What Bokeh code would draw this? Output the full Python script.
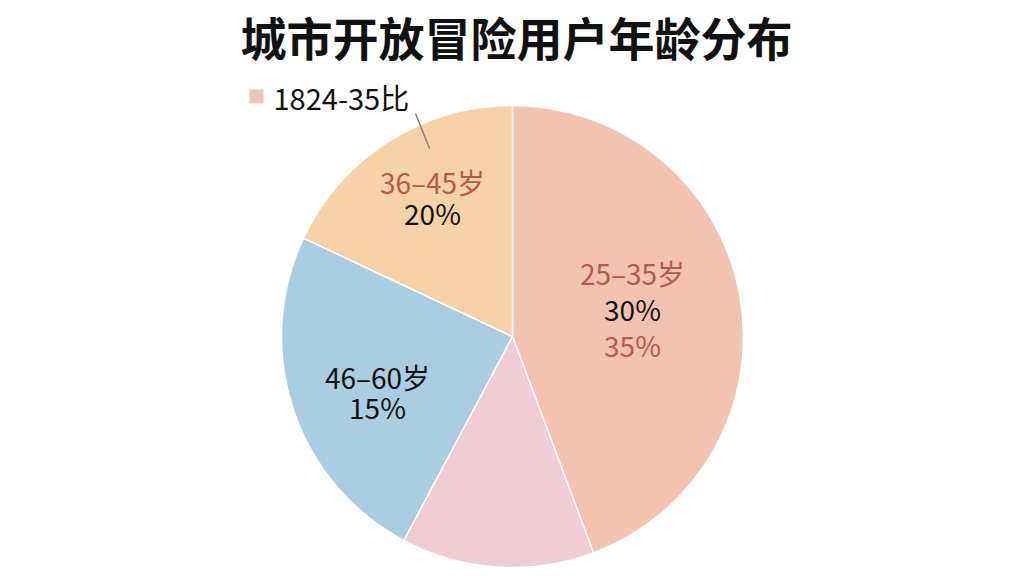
import math
from bokeh.plotting import figure
from bokeh.models import Range1d, ColumnDataSource
from bokeh.core.properties import value
from bokeh.embed import file_html
from bokeh.resources import INLINE

# ---- data ----
title_text = "城市开放冒险用户年龄分布"
legend_text = "1824-35比"
slice_names = ["25–35岁", "18–24岁", "46–60岁", "36–45岁"]
slice_values = [44.3, 13.5, 24.2, 18.0]
slice_colors = ["#F2C3B1", "#F0CDD4", "#AACDE1", "#F6D3A7"]
label_lines = [
    ["25–35岁", "30%", "35%"],
    [],
    ["46–60岁", "15%"],
    ["36–45岁", "20%"],
]
label_colors = [
    ["#B65A4B", "#111111", "#B65A4B"],
    [],
    ["#111111", "#111111"],
    ["#B65A4B", "#111111"],
]

# ---- layout (screen px -> data) ----
W, H = 1024, 576
def X(sx):
    return sx
def Y(sy):
    return H - sy

cx, cy, R = X(512), Y(336), 231
FONT = "Noto Sans CJK SC"

p = figure(width=W, height=H, x_range=Range1d(0, W), y_range=Range1d(0, H),
           output_backend="svg", toolbar_location=None, min_border=0)
p.axis.visible = False
p.grid.visible = False
p.outline_line_color = None
p.background_fill_color = "white"
p.border_fill_color = "white"

# wedges
total = sum(slice_values)
starts, ends = [], []
acc = 0.0
for v in slice_values:
    starts.append(math.pi / 2 - 2 * math.pi * acc / total)
    acc += v
    ends.append(math.pi / 2 - 2 * math.pi * acc / total)
src = ColumnDataSource(dict(start=starts, end=ends, color=slice_colors, name=slice_names))
p.wedge(x=cx, y=cy, radius=R, start_angle="start", end_angle="end", direction="clock",
        fill_color="color", line_color="white", line_width=1.5, source=src)

# slice labels (centre of text block for each slice)
label_pos = [(632, 308), None, (377, 391), (432, 197)]
line_gap = [36, 0, 30, 31]
for i, lines in enumerate(label_lines):
    if not lines:
        continue
    sx, sy = label_pos[i]
    n = len(lines)
    for j, t in enumerate(lines):
        yy = sy + (j - (n - 1) / 2) * line_gap[i]
        p.text(x=[X(sx)], y=[Y(yy)], text=[t], text_font=value(FONT),
               text_font_size="28px", text_color=label_colors[i][j],
               text_align="center", text_baseline="middle")

# leader line
p.line(x=[X(415), X(429)], y=[Y(113), Y(148)], line_color="#9C7C70", line_width=1.5)

# legend
p.scatter(x=[X(256)], y=[Y(96)], marker="square", size=14,
          fill_color=slice_colors[0], line_color=None)
p.text(x=[X(273)], y=[Y(96)], text=[legend_text], text_font=value(FONT),
       text_font_size="29px", text_color="#111111",
       text_align="left", text_baseline="middle")

# title
p.text(x=[X(516)], y=[Y(35)], text=[title_text], text_font=value(FONT),
       text_font_size="46px", text_font_style="bold", text_color="#111111",
       text_align="center", text_baseline="middle")

open("out.html", "w").write(file_html(p, INLINE))
